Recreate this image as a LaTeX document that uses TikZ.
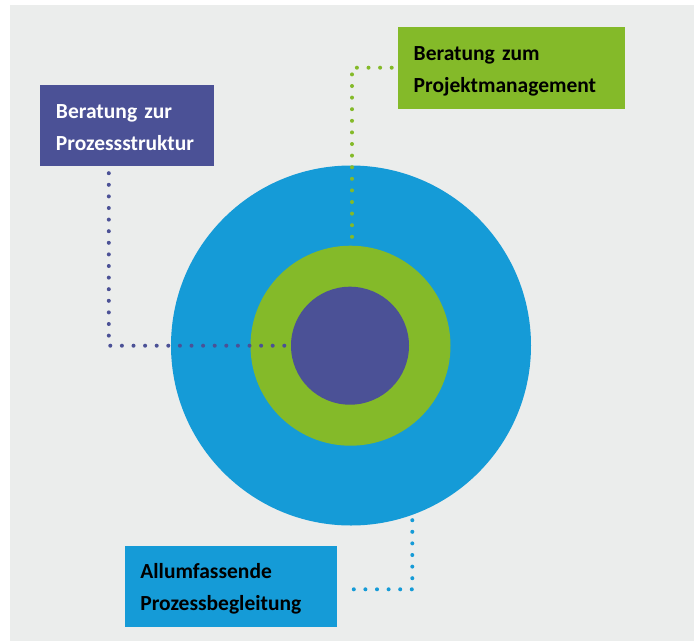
\documentclass[tikz,border=0pt]{standalone}
\usepackage{fontspec}
\setmainfont{Carlito}
\usetikzlibrary{calc}
\definecolor{bggray}{RGB}{235,237,236}
\definecolor{ringblue}{RGB}{21,155,215}
\definecolor{ringgreen}{RGB}{132,186,41}
\definecolor{ringpurple}{RGB}{75,81,150}

\begin{document}
\begin{tikzpicture}[x=1pt, y=-1pt,
  box/.style={rectangle, inner sep=0pt, align=left, text height=22pt, text depth=37pt, font=\fontsize{21.5}{32}\selectfont\bfseries},
  disc/.style={circle, inner sep=0pt},
  dots/.style={line width=4pt, line cap=round, dash pattern=on 0pt off 11.6pt}]
  \useasboundingbox (0, 0) rectangle (697, 641);
  \fill[white] (0, 0) rectangle (697, 641);
  \fill[bggray] (10, 5) rectangle (694, 641);
  % Circles
  \node (voll) [disc, fill=ringblue, minimum size=360pt] at (351, 345.5) {};
  \node (ring) [disc, fill=ringgreen, minimum size=200pt] at (350.5, 345.7) {};
  \node (kern) [disc, fill=ringpurple, minimum size=118pt] at (350, 345.7) {};
  % Boxes
  \node (struktur) [box, fill=ringpurple, text=white, minimum width=174pt, minimum height=81pt, text width=142pt] at (127, 125.5) {Beratung zur\\Prozessstruktur};
  \node (projekt) [box, fill=ringgreen, text=black, minimum width=226.7pt, minimum height=82pt, text width=196pt] at (511.7, 67.7) {Beratung zum\\Projektmanagement};
  \node (begleitung) [box, fill=ringblue, text=black, minimum width=211.7pt, minimum height=80.7pt, text width=181pt] at (230.9, 586.3) {Allumfassende\\Prozessbegleitung};
  % Dotted lines
  \draw[dots, ringpurple] ($(struktur.south west)+(69, 7)$) |- (kern.west);
  \draw[dots, ringgreen] ($(ring.north)+(1.5, -8.7)$) |- (projekt.west);
  \draw[dots, ringblue] ($(voll.south)+(61.3, -5.5)$) |- ($(begleitung.east)+(11, 3)$);
\end{tikzpicture}
\end{document}
